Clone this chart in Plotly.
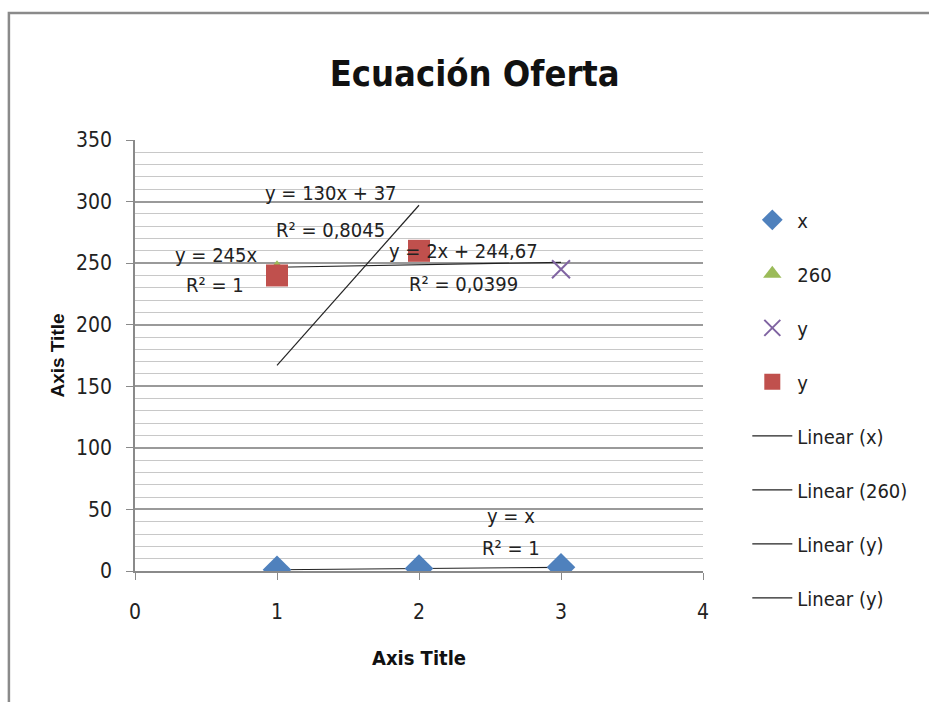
import plotly.graph_objects as go

# ---- data ----
x_vals = [1, 2, 3]
series_x = [1, 2, 3]            # "x" series (blue diamonds)
s260_x = [1]
s260_y = [245]                  # "260" series (green triangle)
y1_x = [3]
y1_y = [245]                    # "y" series (purple x)
y2_x = [1, 2]
y2_y = [240, 260]               # "y" series (red squares)

# trendlines (slope, intercept, x-range) from displayed equations
tr_x = (1.0, 0.0, [1, 3])
tr_260 = (245.0, 0.0, [1])
tr_y1 = (2.0, 244.67, [1, 3])
tr_y2 = (130.0, 37.0, [1, 2])

FONT = "DejaVu Sans Condensed, Liberation Sans Narrow, sans-serif"
BLUE, GREEN, PURPLE, RED = "#4F81BD", "#9BBB59", "#8064A2", "#C0504D"

fig = go.Figure()

def line_pts(tr):
    m, b, xs = tr
    return xs, [m * v + b for v in xs]

traces_lines = [("Linear (x)", tr_x, 5), ("Linear (260)", tr_260, 6),
                ("Linear (y)", tr_y1, 7), ("Linear (y)", tr_y2, 8)]
for name, tr, g in traces_lines:
    xs, ys = line_pts(tr)
    fig.add_trace(go.Scatter(x=xs, y=ys, mode="lines", name=name,
                             line=dict(color="#222222", width=1.2),
                             legendgroup=f"g{g}", legendrank=g))

fig.add_trace(go.Scatter(x=x_vals, y=series_x, mode="markers", name="x",
                         marker=dict(symbol="diamond", size=22, color=BLUE),
                         legendgroup="g1", legendrank=1))
fig.add_trace(go.Scatter(x=s260_x, y=s260_y, mode="markers", name="260",
                         marker=dict(symbol="triangle-up", size=18, color=GREEN),
                         legendgroup="g2", legendrank=2))
fig.add_trace(go.Scatter(x=y1_x, y=y1_y, mode="markers", name="y",
                         marker=dict(symbol="x-thin", size=18, color=PURPLE,
                                     line=dict(color=PURPLE, width=2)),
                         legendgroup="g3", legendrank=3))
fig.add_trace(go.Scatter(x=y2_x, y=y2_y, mode="markers", name="y",
                         marker=dict(symbol="square", size=22, color=RED),
                         legendgroup="g4", legendrank=4))

# equation labels
labels = [
    (1.38, 307, "y = 130x + 37"), (1.38, 277, "R² = 0,8045"),
    (0.57, 257, "y = 245x"), (0.56, 232, "R² = 1"),
    (2.31, 260, "y = 2x + 244,67"), (2.31, 233, "R² = 0,0399"),
    (2.65, 45, "y = x"), (2.65, 19, "R² = 1"),
]
for lx, ly, t in labels:
    fig.add_annotation(x=lx, y=ly, text=t, showarrow=False,
                       font=dict(family=FONT, size=20, color="#222222"))

fig.update_layout(
    width=929, height=702,
    margin=dict(l=135, r=226, t=140, b=131),
    paper_bgcolor="white", plot_bgcolor="white",
    title=dict(text="<b>Ecuación Oferta</b>", x=0.511, xref="container", xanchor="center",
               y=0.895, yanchor="middle",
               font=dict(family=FONT, size=36, color="#111111")),
    legend=dict(x=1.078, y=0.86, xanchor="left", yanchor="top",
                font=dict(family=FONT, size=20, color="#222222"),
                tracegroupgap=25, traceorder="grouped", itemwidth=40,
                maxheight=700),
    showlegend=True,
    shapes=[dict(type="rect", xref="paper", yref="paper",
                 x0=-0.222, x1=1.6, y0=-0.5, y1=1.2945,
                 line=dict(color="#8a8a8a", width=2.5), layer="below")],
)

fig.update_xaxes(range=[0, 4], dtick=1, showgrid=False, zeroline=False,
                 showline=True, linecolor="#8a8a8a", linewidth=1.5,
                 ticks="outside", ticklen=7, tickcolor="#8a8a8a",
                 ticklabelstandoff=14,
                 tickfont=dict(family=FONT, size=21, color="#222222"),
                 title=dict(text="<b>Axis Title</b>", standoff=28,
                            font=dict(family=FONT, size=20, color="#111111")))
fig.update_yaxes(range=[0, 350], dtick=50, showgrid=True, gridcolor="#9a9a9a",
                 gridwidth=2.2, zeroline=False,
                 minor=dict(dtick=10, showgrid=True, gridcolor="#c8c8c8", gridwidth=1.2),
                 showline=True, linecolor="#8a8a8a", linewidth=1.5,
                 ticks="outside", ticklen=7, tickcolor="#8a8a8a",
                 ticklabelstandoff=10,
                 tickfont=dict(family=FONT, size=21, color="#222222"),
                 title=dict(text="<b>Axis Title</b>", standoff=6,
                            font=dict(family="Liberation Sans, Arial, sans-serif",
                                      size=19, color="#111111")))

fig.write_html("out.html")
